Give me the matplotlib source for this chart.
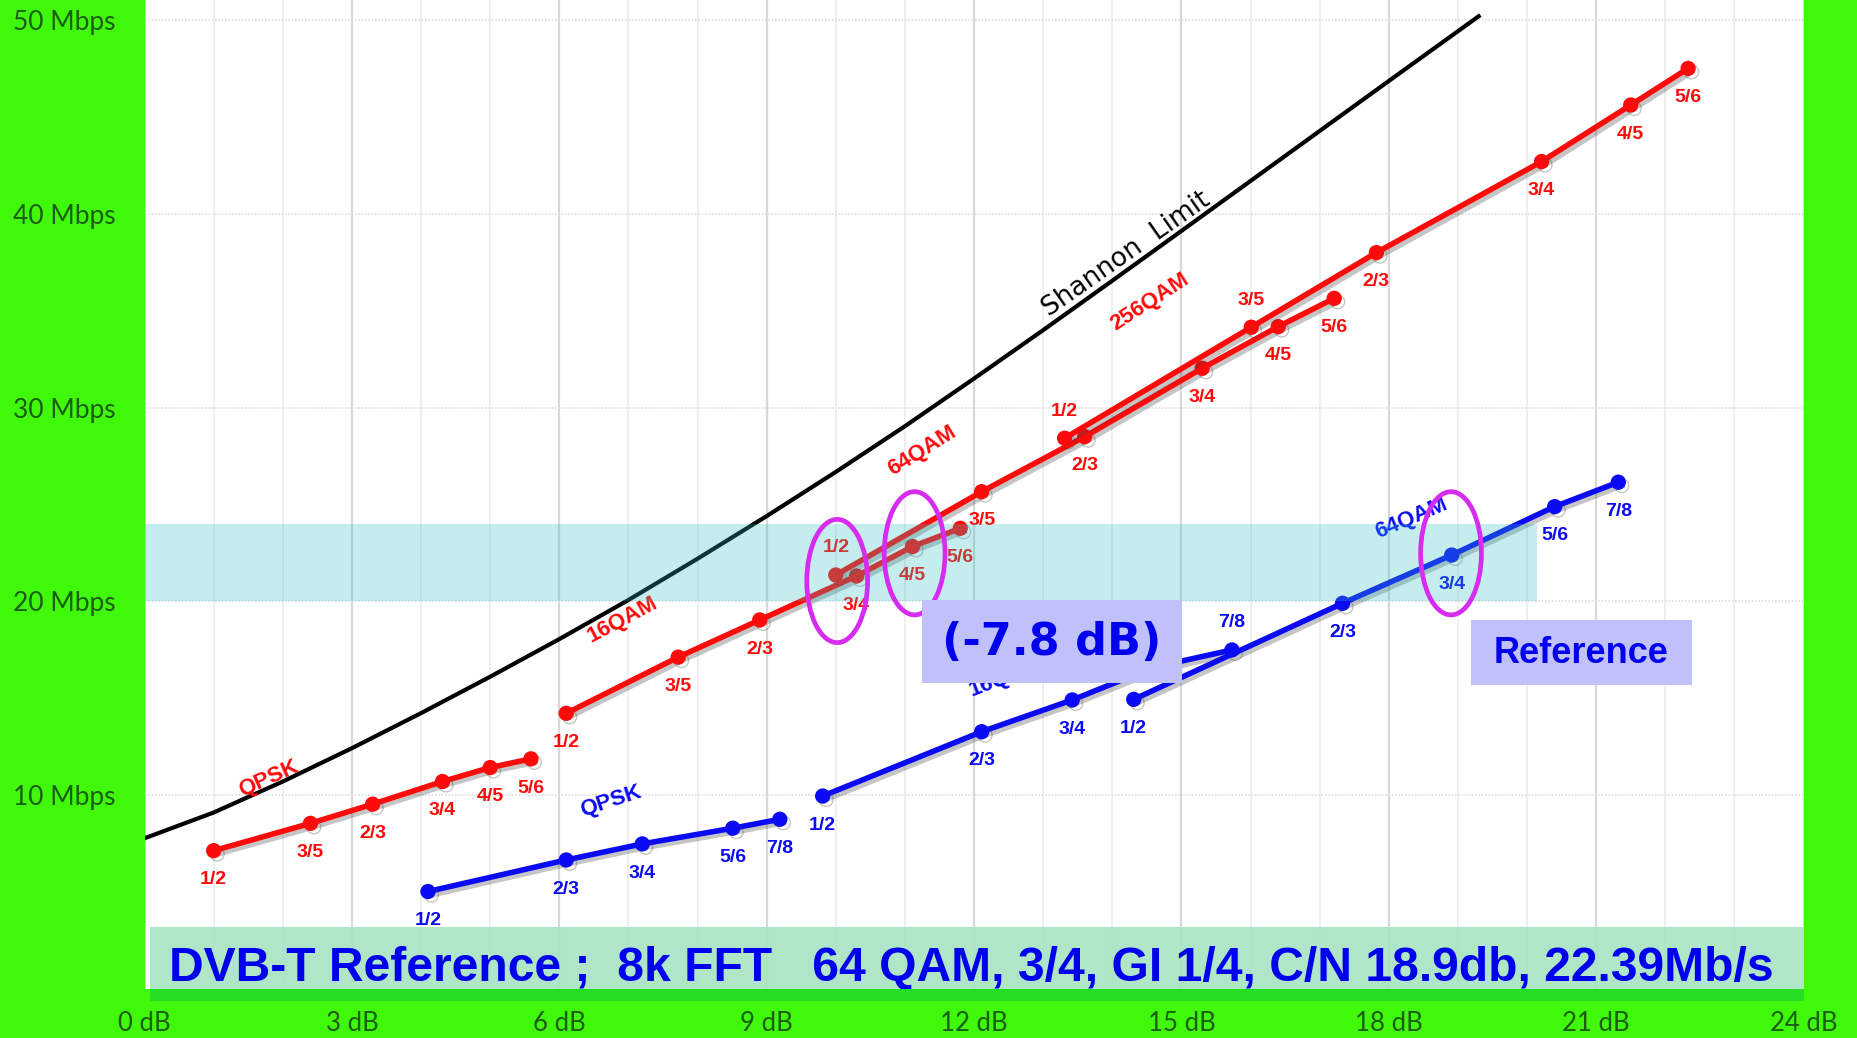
import matplotlib
matplotlib.use('Agg')
import matplotlib.pyplot as plt
import matplotlib.patheffects as pe
from matplotlib.patches import Ellipse, Rectangle

# DVB-T2 curves (red): C/N [dB] vs bitrate [Mbps]
t2_qpsk_db = [1.00, 2.40, 3.30, 4.31, 5.00, 5.59]
t2_qpsk_mbps = [7.13, 8.54, 9.53, 10.70, 11.42, 11.87]
t2_16qam_db = [6.10, 7.72, 8.90, 10.30, 11.11, 11.80]
t2_16qam_mbps = [14.22, 17.12, 19.04, 21.31, 22.83, 23.77]
t2_64qam_db = [10.00, 12.11, 13.60, 15.30, 16.40, 17.21]
t2_64qam_mbps = [21.36, 25.66, 28.50, 32.03, 34.18, 35.64]
t2_256qam_db = [13.31, 16.01, 17.82, 20.21, 21.50, 22.33]
t2_256qam_mbps = [28.42, 34.15, 38.00, 42.70, 45.62, 47.51]
t2_rates = ['1/2', '3/5', '2/3', '3/4', '4/5', '5/6']

# DVB-T curves (blue)
t_qpsk_db = [4.10, 6.10, 7.20, 8.51, 9.19]
t_qpsk_mbps = [5.02, 6.65, 7.48, 8.29, 8.75]
t_16qam_db = [9.81, 12.11, 13.42, 14.60, 15.73]
t_16qam_mbps = [9.95, 13.27, 14.91, 16.60, 17.49]
t_64qam_db = [14.31, 17.33, 18.91, 20.40, 21.32]
t_64qam_mbps = [14.94, 19.90, 22.39, 24.89, 26.15]
t_rates = ['1/2', '2/3', '3/4', '5/6', '7/8']

# Shannon limit
shannon_db = [0, 1, 2, 3, 4, 5, 6, 7, 8, 9, 10, 11, 12, 13, 14, 15, 16, 17, 18, 19.3]
shannon_mbps = [7.77, 9.10, 10.70, 12.42, 14.23, 16.11, 18.05, 20.07, 22.20, 24.40,
                26.68, 29.04, 31.50, 34.00, 36.55, 39.12, 41.70, 44.28, 46.86, 50.20]

x_ticks = [0, 3, 6, 9, 12, 15, 18, 21, 24]
x_labels = ['0 dB', '3 dB', '6 dB', '9 dB', '12 dB', '15 dB', '18 dB', '21 dB', '24 dB']
y_ticks = [10, 20, 30, 40, 50]
y_labels = ['10 Mbps', '20 Mbps', '30 Mbps', '40 Mbps', '50 Mbps']

caption = 'DVB-T Reference ;  8k FFT   64 QAM, 3/4, GI 1/4, C/N 18.9db, 22.39Mb/s'

RED = '#ff0a0a'
BLUE = '#0a0af5'
GREEN_BG = '#3ff80a'
TICK_GREEN = '#1a5e12'
SANS = ['Liberation Sans', 'DejaVu Sans']

fig = plt.figure(figsize=(18.58, 10.38), dpi=100, facecolor=GREEN_BG)
ax = fig.add_axes([0.0778, 0.0474, 0.8929, 0.9526])
ax.set_xlim(0, 24)
ax.set_ylim(0, 51.04)
for s in ax.spines.values():
    s.set_visible(False)

# grid
ax.set_xticks(range(0, 25), minor=True)
ax.set_xticks(x_ticks)
ax.set_xticklabels(x_labels)
ax.set_yticks(y_ticks)
ax.set_yticklabels(y_labels)
ax.grid(axis='x', which='minor', color='#efefef', lw=1.4, zorder=0)
ax.grid(axis='x', which='major', color='#d9d9d9', lw=1.6, zorder=0)
ax.grid(axis='y', which='major', color='#dedede', lw=1.2, ls=(0, (1, 1)), zorder=0)
ax.set_axisbelow(True)
ax.tick_params(which='both', length=0)
ax.tick_params(axis='x', pad=16, labelsize=18.5, labelcolor=TICK_GREEN)
ax.tick_params(axis='y', pad=94.5, labelsize=19, labelcolor=TICK_GREEN)
for lab in ax.get_yticklabels():
    lab.set_horizontalalignment('left')
for lab in ax.get_xticklabels() + ax.get_yticklabels():
    lab.set_family(['Lato', 'DejaVu Sans'])
    lab.set_fontweight('normal')

shadow = [pe.SimpleLineShadow(offset=(2.5, -2.5), shadow_color='0.25', alpha=0.3), pe.Normal()]

# Shannon limit
ax.plot(shannon_db, shannon_mbps, color='black', lw=3.0, zorder=3)
ax.text(14.2, 37.9, 'Shannon  Limit', rotation=35, rotation_mode='anchor',
        ha='center', va='center', fontsize=19, color='black', zorder=4)

series = [
    (t2_qpsk_db, t2_qpsk_mbps, t2_rates, RED, set(), set()),
    (t2_16qam_db, t2_16qam_mbps, t2_rates, RED, set(), set()),
    (t2_64qam_db, t2_64qam_mbps, t2_rates, RED, {'1/2'}, set()),
    (t2_256qam_db, t2_256qam_mbps, t2_rates, RED, {'1/2', '3/5'}, set()),
    (t_qpsk_db, t_qpsk_mbps, t_rates, BLUE, set(), set()),
    (t_16qam_db, t_16qam_mbps, t_rates, BLUE, {'7/8'}, {'5/6'}),  # 5/6 sits under the box
    (t_64qam_db, t_64qam_mbps, t_rates, BLUE, set(), set()),
]
for xs, ys, rates, col, above, hidden in series:
    ax.plot(xs, ys, color=col, lw=4, marker='o', ms=10, zorder=3,
            path_effects=shadow)
    for x, y, r in zip(xs, ys, rates):
        if r in hidden:
            continue
        dy = 19.5 if r in above else -21
        ax.annotate(r, (x, y), xytext=(0, dy), textcoords='offset points',
                    ha='center', va='center', fontsize=14, fontweight='bold',
                    family=SANS, color=col, zorder=4)

# modulation names
mod_labels = [
    ('QPSK', 1.79, 10.87, 24, RED),
    ('16QAM', 6.92, 19.04, 28, RED),
    ('64QAM', 11.25, 27.77, 32, RED),
    ('256QAM', 14.54, 35.43, 33, RED),
    ('QPSK', 6.75, 9.66, 18, BLUE),
    ('16QAM', 12.45, 16.05, 21, BLUE),
    ('64QAM', 18.33, 24.29, 23, BLUE),
]
for txt, x, y, rot, col in mod_labels:
    ax.text(x, y, txt, rotation=rot, rotation_mode='anchor', ha='center', va='center',
            fontsize=16, fontweight='bold', family=SANS, color=col, zorder=4)

# cyan band around the reference bitrate
ax.add_patch(Rectangle((0, 20), 20.14, 4.0, facecolor='#33bfbf', alpha=0.28,
                       edgecolor='none', zorder=5))

# ellipses
for cx, cy in [(10.02, 21.05), (11.14, 22.48), (18.90, 22.48)]:
    ax.add_patch(Ellipse((cx, cy), 0.88, 6.36, facecolor='none', edgecolor='#d62cf0',
                         lw=3.4, zorder=6))

# boxes
ax.add_patch(Rectangle((11.24, 15.77), 3.77, 4.31, facecolor='#c0c0fa',
                       edgecolor='none', zorder=7))
ax.text(13.12, 17.9, '(-7.8 dB)', ha='center', va='center', fontsize=32,
        fontweight='bold', color='#0000ee', zorder=8)
ax.add_patch(Rectangle((19.19, 15.69), 3.19, 3.35, facecolor='#c0c0fa',
                       edgecolor='none', zorder=7))
ax.text(20.78, 17.3, 'Reference', ha='center', va='center', fontsize=26,
        fontweight='bold', family=SANS, color='#0000ee', zorder=8)

# caption band
ax.add_patch(Rectangle((0.086, 0), 23.914, 3.21, facecolor='#a8e4c4', alpha=0.92,
                       edgecolor='none', zorder=5))
ax.text(0.36, 1.05, caption, ha='left', va='center', fontsize=34.6, fontweight='bold',
        family=SANS, color='#0000ee', zorder=6)

# darker green strip under the plot
fig.patches.append(Rectangle((0.081, 0.0354), 0.8897, 0.012, transform=fig.transFigure,
                             facecolor='#25dd22', edgecolor='none', zorder=1))

fig.savefig('out.png', dpi=100, facecolor=GREEN_BG)
